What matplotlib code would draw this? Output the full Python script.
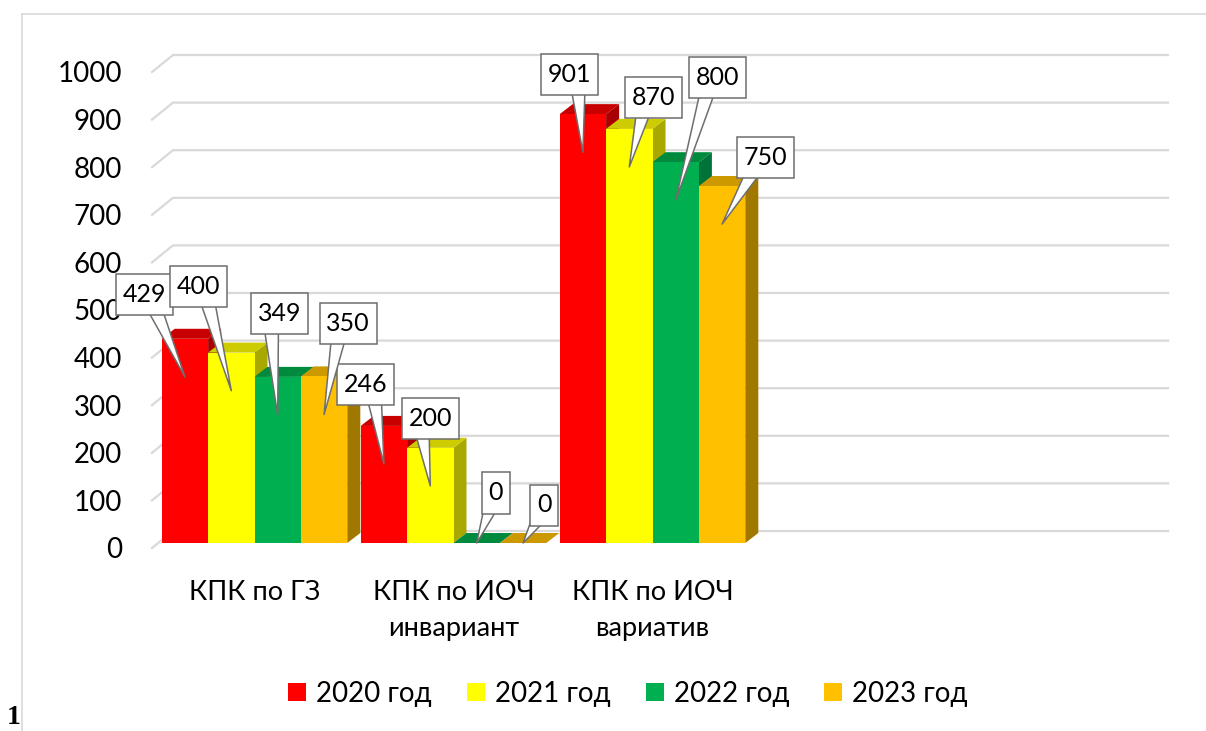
import matplotlib
matplotlib.use('Agg')
import matplotlib.pyplot as plt
from matplotlib.patches import Polygon, Patch
from matplotlib.lines import Line2D
from matplotlib.path import Path
from matplotlib.transforms import ScaledTranslation

# ---------------- data ----------------
categories = ['КПК по ГЗ', 'КПК по ИОЧ\nинвариант', 'КПК по ИОЧ\nвариатив', '', '']
series_names = ['2020 год', '2021 год', '2022 год', '2023 год']
values_2020 = [429, 246, 901]
values_2021 = [400, 200, 870]
values_2022 = [349, 0, 800]
values_2023 = [350, 0, 750]
y_ticks = [0, 100, 200, 300, 400, 500, 600, 700, 800, 900, 1000]

# ---------------- style ----------------
front_colors = ['#FF0000', '#FFFF00', '#00B050', '#FFC000']
top_colors = ['#C80000', '#CCCC00', '#008A3E', '#CC9A00']
side_colors = ['#A80000', '#A8A800', '#00733A', '#A07800']
# data-label box offsets (pixels, x right / y up) relative to the pointer tip
label_offsets = [
    [(-40, 82), (-18, 79), (-13, 78)],
    [(-33, 104), (0, 67), (24, 69)],
    [(2, 101), (19, 50), (42, 123)],
    [(24, 91), (21, 38), (43, 67)],
]
series_values = [values_2020, values_2021, values_2022, values_2023]


class XYPadBox:
    """Rectangular box with separate horizontal / vertical padding."""
    def __init__(self, padx=0.3, pady=0.3):
        self.padx = padx
        self.pady = pady

    def __call__(self, x0, y0, width, height, mutation_size):
        px = self.padx * mutation_size
        py = self.pady * mutation_size
        x0, y0 = x0 - px, y0 - py
        x1, y1 = x0 + width + 2 * px, y0 + height + 2 * py
        return Path([(x0, y0), (x1, y0), (x1, y1), (x0, y1), (x0, y0)], closed=True)


plt.rcParams['font.family'] = ['Lato', 'DejaVu Sans']

W, H = 1206, 731
DPI = 100
fig = plt.figure(figsize=(W / DPI, H / DPI), dpi=DPI)
fig.patch.set_facecolor('white')

PX_CAT = 199.0      # pixels per category
PX_VAL = 0.476      # pixels per value unit
CAT0 = 254.5        # pixel x of first category centre
ZERO = 543.0        # pixel y (from top) of value 0 on bar front plane
XL, XR = 152.0, 1168.0
YMIN, YMAX = -60, 1060

xlim = ((XL - CAT0) / PX_CAT, (XR - CAT0) / PX_CAT)
top_px = ZERO - YMAX * PX_VAL
bot_px = ZERO - YMIN * PX_VAL
ax = fig.add_axes([XL / W, (H - bot_px) / H, (XR - XL) / W, (bot_px - top_px) / H])
ax.set_xlim(*xlim)
ax.set_ylim(YMIN, YMAX)
for sp in ax.spines.values():
    sp.set_visible(False)
ax.set_facecolor('none')

# depth offsets
bar_ddx = 13 / PX_CAT
bar_ddy = 10 / PX_VAL
grid_front_dy = -5 / PX_VAL
grid_back_dx = 21 / PX_CAT
grid_back_dy = 12 / PX_VAL

# gridlines (3D wall style)
for v in y_ticks:
    ax.plot([xlim[0], xlim[0] + grid_back_dx, xlim[1]],
            [v + grid_front_dy, v + grid_back_dy, v + grid_back_dy],
            color='#d9d9d9', lw=1.6, zorder=0, clip_on=False,
            solid_joinstyle='miter')

# bars
n_series = len(series_values)
bw = 46.4 / PX_CAT
n_groups = len(values_2020)
for s in range(n_series):
    xs = [g + (s - n_series / 2) * bw for g in range(n_groups)]
    vals = series_values[s]
    z = 2 + 3 * s
    for x0, v in zip(xs, vals):
        x1 = x0 + bw
        side = Polygon([(x1, 0), (x1, v), (x1 + bar_ddx, v + bar_ddy), (x1 + bar_ddx, bar_ddy)],
                       closed=True, facecolor=side_colors[s], edgecolor='none', zorder=z)
        top = Polygon([(x0, v), (x1, v), (x1 + bar_ddx, v + bar_ddy), (x0 + bar_ddx, v + bar_ddy)],
                      closed=True, facecolor=top_colors[s], edgecolor='none', zorder=z + 1)
        ax.add_patch(side)
        ax.add_patch(top)
    ax.bar(xs, vals, width=bw, align='edge', color=front_colors[s], edgecolor='none',
           zorder=z + 2)

# data labels (callouts)
for s in range(n_series):
    vals = series_values[s]
    for g, v in enumerate(vals):
        xc = g + (s - n_series / 2) * bw + bw / 2
        tip = max(v - 80, 0)
        ox, oy = label_offsets[s][g]
        rx = 0.68 if ox < 0 else 0.3
        ax.annotate(str(v), xy=(xc, tip), xytext=(ox, oy), textcoords='offset pixels',
                    ha='center', va='center', fontsize=18, color='black', zorder=30 + s,
                    annotation_clip=False,
                    bbox=dict(boxstyle=XYPadBox(0.27, 0.36), fc='white', ec='#6e6e6e', lw=1.1),
                    arrowprops=dict(arrowstyle='wedge,tail_width=0.6,shrink_factor=0.5',
                                    fc='white', ec='#6e6e6e', lw=1.1, shrinkA=0, shrinkB=0,
                                    patchA=None, relpos=(rx, 0.1)))

# axes ticks
ax.set_yticks(y_ticks)
ax.set_yticklabels([str(t) for t in y_ticks])
ax.tick_params(axis='y', length=0, pad=21.6, labelsize=20, labelcolor='black')
off = ScaledTranslation(0, -5 / DPI, fig.dpi_scale_trans)
for lab in ax.get_yticklabels():
    lab.set_transform(lab.get_transform() + off)

ax.set_xticks(range(len(categories)))
ax.set_xticklabels(categories, fontsize=19.5, linespacing=1.55)
ax.tick_params(axis='x', length=0, pad=6, labelcolor='black')

# legend
handles = [Patch(facecolor=c, edgecolor='none') for c in front_colors]
fig.legend(handles, series_names, loc='center', bbox_to_anchor=(628 / W, (H - 694) / H),
           ncol=4, frameon=False, fontsize=20, handlelength=0.65, handleheight=0.61,
           handletextpad=0.36, columnspacing=1.26)

# chart border
fig.add_artist(Line2D([22 / W, 22 / W], [0, (H - 14) / H], color='#d9d9d9', lw=1.2,
                      transform=fig.transFigure))
fig.add_artist(Line2D([22 / W, 1], [(H - 14) / H, (H - 14) / H], color='#d9d9d9', lw=1.2,
                      transform=fig.transFigure))

# stray page number
fig.text(7 / W, 1 / H, '1', fontsize=20, family=['Liberation Serif', 'DejaVu Serif'],
         weight='bold', ha='left', va='bottom')

fig.savefig('out.png', dpi=DPI, facecolor='white')
